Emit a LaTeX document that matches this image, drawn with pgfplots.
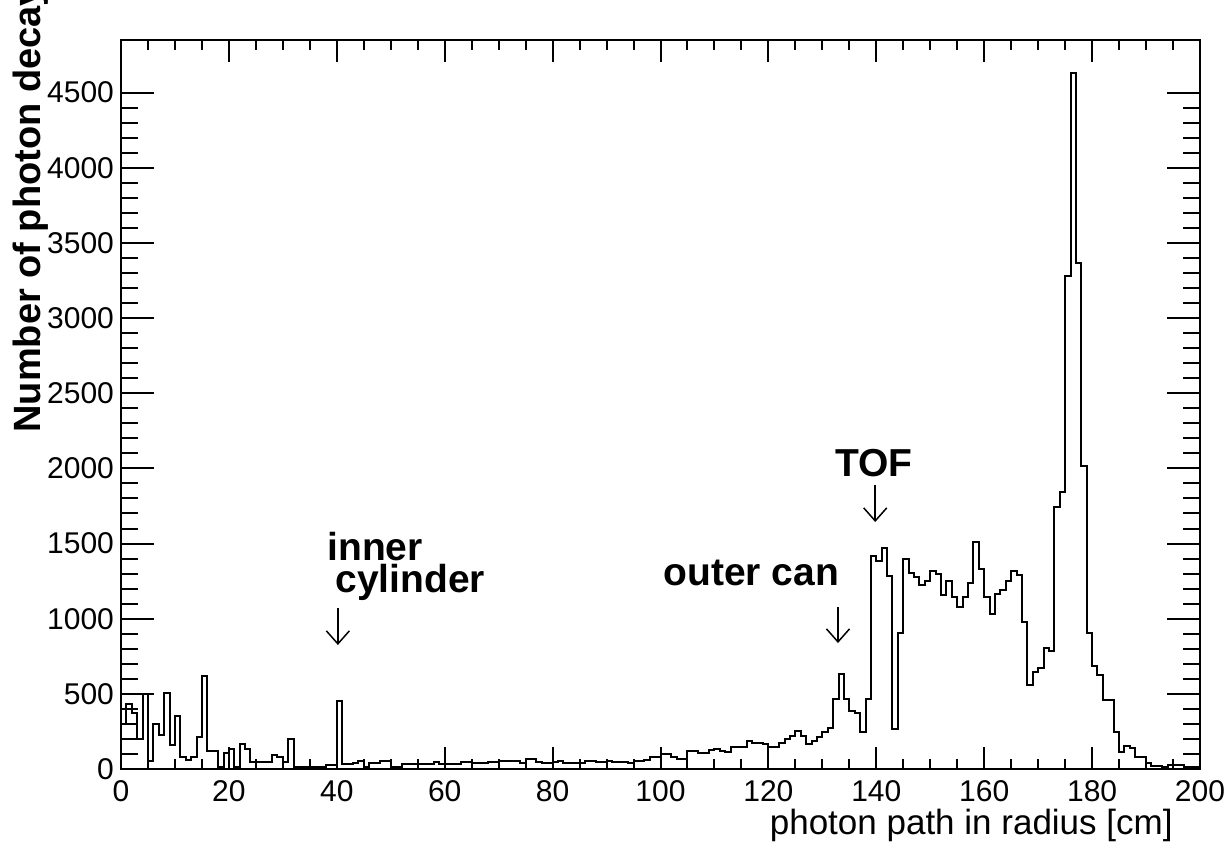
\documentclass[border=0pt]{standalone}
\usepackage{pgfplots}
\usepackage{pgfplotstable}
\pgfplotsset{compat=1.18}
\usepackage{fontspec}
\setmainfont{Liberation Sans}
\usetikzlibrary{arrows.meta}

\pgfplotstableread{
x y
0 300
1 430
2 370
3 200
4 500
5 50
6 300
7 226
8 504
9 160
10 355
11 82
12 60
13 82
14 215
15 621
16 120
17 120
18 11
19 109
20 133
21 11
22 164
23 133
24 44
25 44
26 44
27 44
28 93
29 78
30 44
31 197
32 15
33 15
34 15
35 15
36 15
37 15
38 25
39 25
40 453
41 33
42 33
43 42
44 55
45 15
46 42
47 42
48 55
49 55
50 15
51 15
52 33
53 33
54 33
55 33
56 33
57 33
58 49
59 33
60 33
61 33
62 33
63 49
64 49
65 38
66 38
67 38
68 49
69 49
70 55
71 55
72 55
73 55
74 42
75 64
76 64
77 49
78 42
79 42
80 45
81 55
82 40
83 40
84 40
85 40
86 55
87 50
88 45
89 45
90 50
91 45
92 45
93 45
94 40
95 50
96 55
97 60
98 82
99 82
100 97
101 97
102 82
103 66
104 66
105 120
106 120
107 109
108 109
109 126
110 133
111 120
112 111
113 149
114 149
115 149
116 186
117 171
118 171
119 164
120 146
121 146
122 171
123 200
124 222
125 253
126 222
127 169
128 189
129 211
130 248
131 271
132 464
133 632
134 464
135 388
136 370
137 244
138 464
139 1418
140 1384
141 1469
142 1287
143 268
144 903
145 1396
146 1307
147 1276
148 1225
149 1254
150 1318
151 1298
152 1158
153 1254
154 1147
155 1080
156 1147
157 1240
158 1509
159 1329
160 1147
161 1032
162 1163
163 1191
164 1254
165 1318
166 1291
167 981
168 559
169 648
170 675
171 803
172 788
173 1746
174 1846
175 3277
176 4631
177 3366
178 2017
179 903
180 688
181 626
182 459
183 459
184 248
185 115
186 155
187 138
188 82
189 82
190 38
191 22
192 22
193 11
194 27
195 27
196 27
197 11
198 11
199 11
200 11
}\histdata

\pgfplotsset{
  rootaxis/.style={
    at={(0pt,0pt)}, anchor=south west,
    scale only axis, width=539.5pt, height=364.5pt,
    xmin=0, xmax=200, ymin=0, ymax=4850,
    axis line style={line width=1pt},
    tick align=inside,
    every tick/.style={line width=1pt, black},
    scaled ticks=false,
    /pgf/number format/1000 sep={},
    /pgf/number format/assume math mode=true,
    tick label style={font=\fontsize{15}{18}\selectfont},
    clip=false,
  }
}

\begin{document}
\begin{tikzpicture}
\path[use as bounding box] (-60.5pt,-39.5pt) rectangle (553.5pt,384.5pt);
% y ticks axis
\begin{axis}[rootaxis,
    xtick=\empty,
    ytick={0,500,...,4500},
    minor y tick num=4,
    ytick pos=both, yticklabel pos=left,
    major tick length=16.5pt, minor tick length=8.5pt,
  ]
\end{axis}
% x ticks axis with data
\begin{axis}[rootaxis,
    ytick=\empty,
    xtick={0,20,...,200},
    minor x tick num=3,
    xtick pos=both, xticklabel pos=left,
    major tick length=11pt, minor tick length=5pt,
    xticklabel style={yshift=-2pt},
  ]
\addplot[const plot, line width=1pt, black, mark=none] table[x=x,y=y] {\histdata};
\node[anchor=base west, font=\fontsize{19.5}{23}\selectfont\bfseries, inner sep=0pt] at (axis cs:38.2,1390) {inner};
\node[anchor=base west, font=\fontsize{19.5}{23}\selectfont\bfseries, inner sep=0pt] at (axis cs:39.7,1171) {cylinder};
\node[anchor=base west, font=\fontsize{19.5}{23}\selectfont\bfseries, inner sep=0pt] at (axis cs:100.5,1224) {outer can};
\node[anchor=base west, font=\fontsize{19.5}{23}\selectfont\bfseries, inner sep=0pt] at (axis cs:132.3,1943) {TOF};
\draw[line width=0.75pt, -{Straight Barb[length=6.5pt,width=11.5pt]}] (axis cs:40.2,1071) -- (axis cs:40.2,825);
\draw[line width=0.75pt, -{Straight Barb[length=6.5pt,width=11.5pt]}] (axis cs:132.9,1078) -- (axis cs:132.9,838);
\draw[line width=0.75pt, -{Straight Barb[length=6.5pt,width=11.5pt]}] (axis cs:139.8,1890) -- (axis cs:139.8,1643);
\end{axis}
\node[rotate=90, anchor=base west, font=\fontsize{19}{23}\selectfont\bfseries, inner sep=0pt] at (-40pt,168pt) {Number of photon decay};
\node[anchor=base east, font=\fontsize{17.5}{21}\selectfont, inner sep=0pt] at (526pt,-32.5pt) {photon path in radius [cm]};
\end{tikzpicture}
\end{document}
